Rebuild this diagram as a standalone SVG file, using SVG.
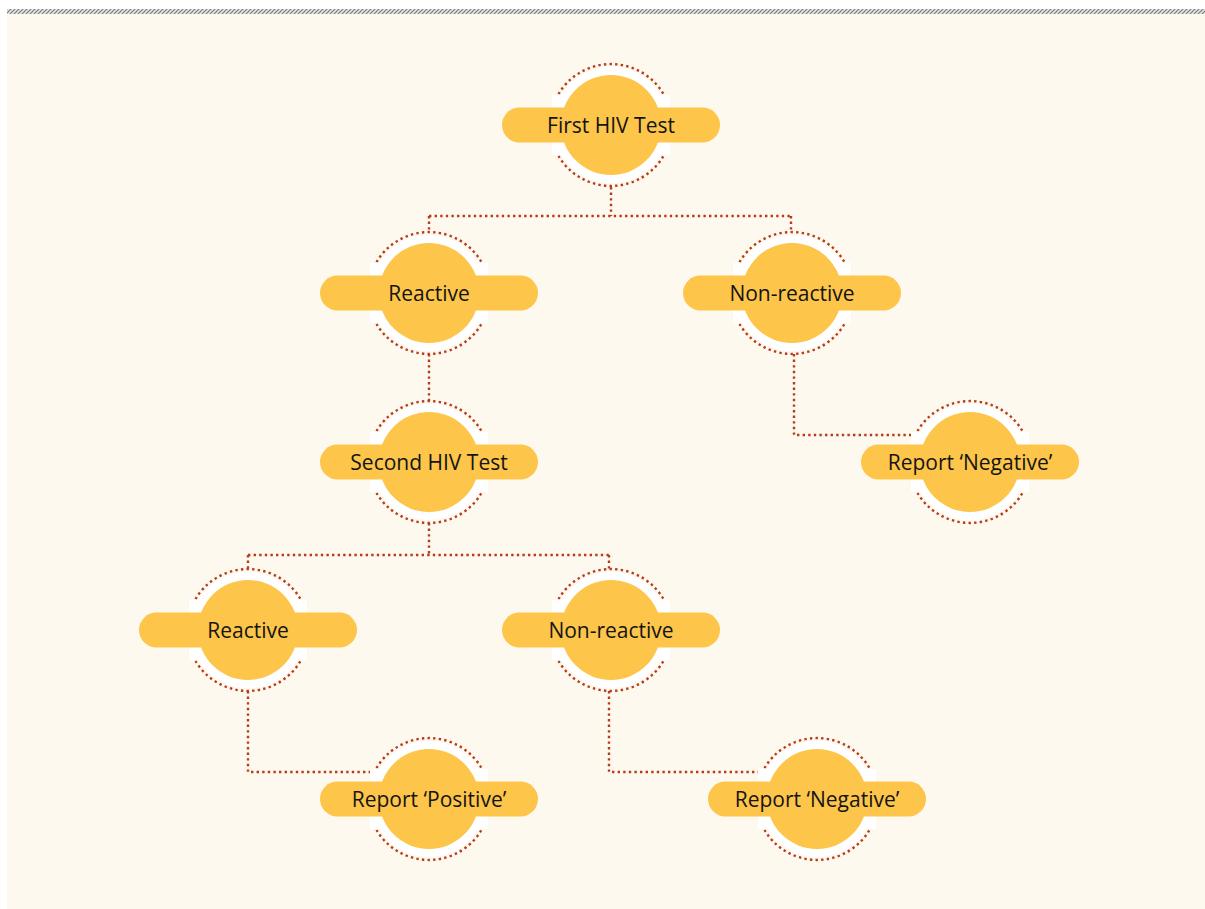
<svg xmlns="http://www.w3.org/2000/svg" width="1205" height="909" viewBox="0 0 1205 909">
<defs>
<pattern id="hatch" width="4" height="4" patternUnits="userSpaceOnUse">
<rect width="4" height="4" fill="#e6e6e6"/>
<path d="M-1,1 l2,-2 M0,4 l4,-4 M3,5 l2,-2" stroke="#7a7a7a" stroke-width="1.2"/>
</pattern>
<g id="node">
<circle r="58" fill="#ffffff"/>
<rect x="-59" y="-30" width="118" height="60" fill="#ffffff"/>
<circle r="50" fill="#fdc54a"/>
<rect x="-109" y="-17.5" width="218" height="35" rx="17.5" fill="#fdc54a"/>
<path class="dot" d="M-52.5,-31 A61,61 0 0 1 52.5,-31"/>
<path class="dot" d="M-52.5,31 A61,61 0 0 0 52.5,31"/>
</g>
</defs>
<style>
.dot{fill:none;stroke:#b83c1c;stroke-width:2.4;stroke-dasharray:2.4 3.2}
.lbl{font-family:"Open Sans","Noto Sans","Liberation Sans",sans-serif;font-size:21px;fill:#141414;text-anchor:middle;dominant-baseline:central}
</style>
<rect x="0" y="0" width="1205" height="909" fill="#ffffff"/>
<rect x="7" y="9" width="1198" height="5" fill="url(#hatch)"/>
<rect x="7" y="14" width="1198" height="895" fill="#fef9ef"/>
<g id="connectors" class="dot">
<path d="M611,187 V216 M429,216 H791 M429,216 V232 M791,216 V232"/>
<path d="M429,354 V401"/>
<path d="M794,354 V435 H917"/>
<path d="M429,523 V555 M248,555 H609 M248,555 V569 M609,555 V569"/>
<path d="M248,691 V772 H376"/>
<path d="M609,691 V772 H764"/>
</g>
<g id="n1" transform="translate(611,125)"><use href="#node"/><text class="lbl">First HIV Test</text></g>
<g id="n2" transform="translate(429,293)"><use href="#node"/><text class="lbl">Reactive</text></g>
<g id="n3" transform="translate(792,293)"><use href="#node"/><text class="lbl">Non-reactive</text></g>
<g id="n4" transform="translate(429,462)"><use href="#node"/><text class="lbl">Second HIV Test</text></g>
<g id="n5" transform="translate(970,462)"><use href="#node"/><text class="lbl">Report ‘Negative’</text></g>
<g id="n6" transform="translate(248,630)"><use href="#node"/><text class="lbl">Reactive</text></g>
<g id="n7" transform="translate(611,630)"><use href="#node"/><text class="lbl">Non-reactive</text></g>
<g id="n8" transform="translate(429,799)"><use href="#node"/><text class="lbl">Report ‘Positive’</text></g>
<g id="n9" transform="translate(817,799)"><use href="#node"/><text class="lbl">Report ‘Negative’</text></g>
</svg>
